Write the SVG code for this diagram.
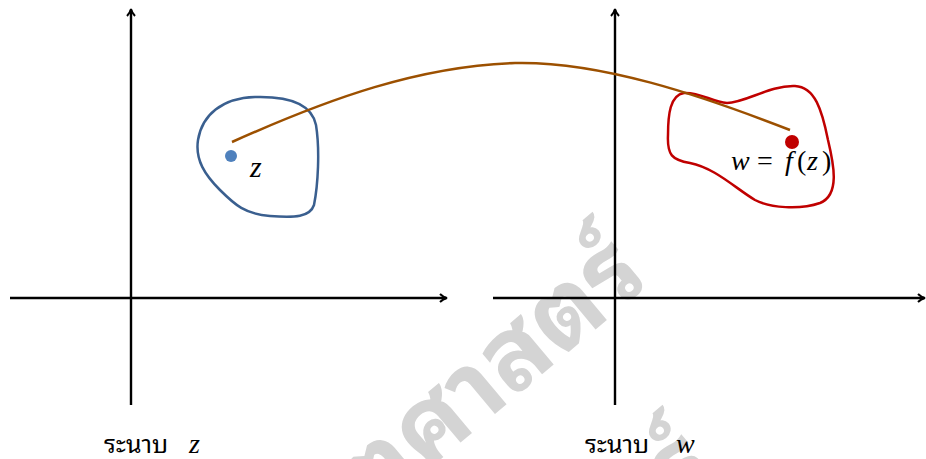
<svg xmlns="http://www.w3.org/2000/svg" width="926" height="459" viewBox="0 0 926 459">
<style>
.axis{stroke:#000;stroke-width:2.4;fill:none}
.thai{font-family:"Noto Sans Thai Looped","Noto Serif Thai","Loma","Garuda","Norasi","Noto Sans Thai","Noto Sans","DejaVu Sans",sans-serif;font-size:25px;fill:#000}
.math{font-family:"Liberation Serif","DejaVu Serif",serif;font-style:italic;fill:#000}
.wm{font-family:"Noto Sans Thai Looped","Loma","Garuda","Noto Sans Thai","Noto Sans","DejaVu Sans",sans-serif;font-weight:bold;font-size:102px;fill:#d4d4d4}
</style>
<defs>
<marker id="arr" viewBox="0 0 10 10" refX="8" refY="5" markerWidth="10" markerHeight="10" markerUnits="userSpaceOnUse" orient="auto">
<path d="M2,1 Q5,4 9,5 Q5,6 2,9" fill="none" stroke="#000" stroke-width="2"/>
</marker>
</defs>
<g id="watermark">
<text class="wm" transform="translate(652,282) rotate(-40)" text-anchor="end">คณิตศาสตร์</text>
<text class="wm" transform="translate(722,475) rotate(-40)" text-anchor="end">คณิตศาสตร์</text>
</g>
<g id="z-plane">
<line class="axis" x1="131" y1="405" x2="131" y2="10" marker-end="url(#arr)"/>
<line class="axis" x1="10" y1="298" x2="446" y2="298" marker-end="url(#arr)"/>
<text class="thai" x="104" y="453">ระนาบ</text>
<text class="math" x="189" y="453" font-size="28">z</text>
</g>
<g id="w-plane">
<line class="axis" x1="615" y1="405" x2="615" y2="10" marker-end="url(#arr)"/>
<line class="axis" x1="493" y1="298" x2="924" y2="298" marker-end="url(#arr)"/>
<text class="thai" x="585" y="453">ระนาบ</text>
<text class="math" x="676" y="453" font-size="28">w</text>
</g>
<g id="region-z">
<path d="M255,97 C290,96 312,105 316,125 C320,150 318,185 314,205 C310,217 295,218 270,216 C245,214 235,205 220,190 C205,175 195,160 198,140 C202,115 222,98 255,97 Z" fill="none" stroke="#3a5f8f" stroke-width="2.5"/>
<circle cx="231" cy="156" r="6" fill="#4f81bd"/>
<text class="math" x="250" y="177" font-size="30">z</text>
</g>
<g id="region-w">
<path d="M684,93 C700,92 712,102 727,103 C745,103 770,85 795,86 C815,87 822,110 828,140 C834,165 840,195 820,203 C800,210 770,208 755,200 C735,188 715,168 690,163 C672,160 667,155 668,135 C668,115 670,95 684,93 Z" fill="none" stroke="#c00000" stroke-width="2.5"/>
<circle cx="792" cy="142" r="7" fill="#c00000"/>
<text class="math" y="170" font-size="28"><tspan x="731">w</tspan><tspan x="757" font-style="normal">=</tspan><tspan x="785">f</tspan><tspan x="797" font-style="normal">(</tspan><tspan x="807">z</tspan><tspan x="822" font-style="normal">)</tspan></text>
</g>
<g id="connectors">
<path d="M232,142 C330,98 420,66 515,63 C600,61 700,95 790,130" fill="none" stroke="#9c5000" stroke-width="2.5"/>
</g>
</svg>
